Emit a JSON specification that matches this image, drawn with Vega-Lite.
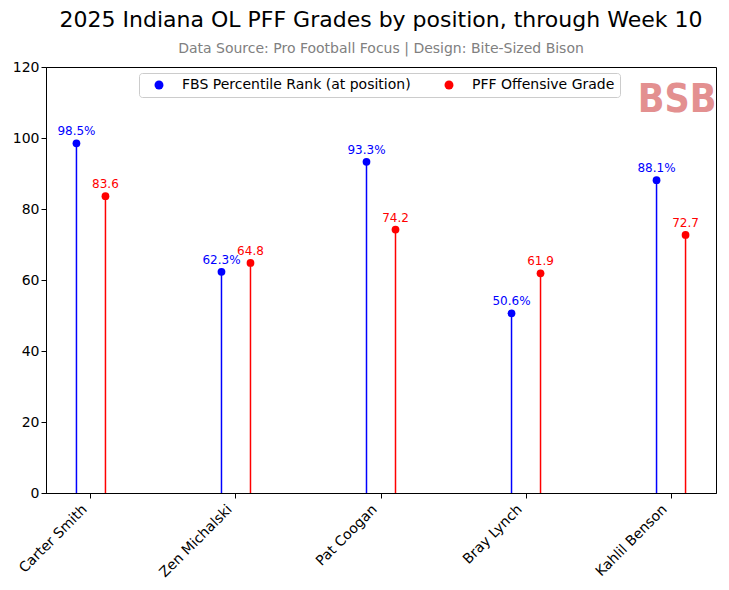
{
  "$schema": "https://vega.github.io/schema/vega-lite/v6.json",
  "width": 670,
  "height": 426,
  "autosize": {"type": "none"},
  "padding": {"left": 46, "top": 67, "right": 13, "bottom": 97},
  "background": "white",
  "config": {
    "view": {"stroke": "black", "strokeWidth": 1},
    "font": "DejaVu Sans"
  },
  "title": {
    "text": "2025 Indiana OL PFF Grades by position, through Week 10",
    "subtitle": "Data Source: Pro Football Focus | Design: Bite-Sized Bison",
    "font": "DejaVu Sans",
    "fontSize": 22,
    "fontWeight": "normal",
    "color": "black",
    "subtitleFont": "DejaVu Sans",
    "subtitleFontSize": 14,
    "subtitleColor": "#808080",
    "anchor": "middle",
    "offset": 3,
    "subtitlePadding": 10
  },
  "layer": [
    {
      "data": {
        "values": [
          {"player": "Carter Smith", "metric": "FBS Percentile Rank (at position)", "value": 98.5, "label": "98.5%"},
          {"player": "Carter Smith", "metric": "PFF Offensive Grade", "value": 83.6, "label": "83.6"},
          {"player": "Zen Michalski", "metric": "FBS Percentile Rank (at position)", "value": 62.3, "label": "62.3%"},
          {"player": "Zen Michalski", "metric": "PFF Offensive Grade", "value": 64.8, "label": "64.8"},
          {"player": "Pat Coogan", "metric": "FBS Percentile Rank (at position)", "value": 93.3, "label": "93.3%"},
          {"player": "Pat Coogan", "metric": "PFF Offensive Grade", "value": 74.2, "label": "74.2"},
          {"player": "Bray Lynch", "metric": "FBS Percentile Rank (at position)", "value": 50.6, "label": "50.6%"},
          {"player": "Bray Lynch", "metric": "PFF Offensive Grade", "value": 61.9, "label": "61.9"},
          {"player": "Kahlil Benson", "metric": "FBS Percentile Rank (at position)", "value": 88.1, "label": "88.1%"},
          {"player": "Kahlil Benson", "metric": "PFF Offensive Grade", "value": 72.7, "label": "72.7"}
        ]
      },
      "encoding": {
        "x": {
          "field": "player",
          "type": "nominal",
          "sort": null,
          "scale": {"paddingInner": 0.6, "paddingOuter": 0.11},
          "axis": {
            "title": null,
            "labelAngle": -45,
            "labelAlign": "right",
            "labelBaseline": "middle",
            "labelFontSize": 14,
            "labelFont": "DejaVu Sans",
            "labelColor": "black",
            "tickSize": 5,
            "tickColor": "black",
            "domainColor": "black",
            "labelPadding": 9,
            "labelOffset": -6,
            "bandPosition": 0.5,
            "grid": false
          }
        },
        "xOffset": {
          "field": "metric",
          "type": "nominal",
          "sort": ["FBS Percentile Rank (at position)", "PFF Offensive Grade"],
          "scale": {"paddingInner": 0, "paddingOuter": 0}
        },
        "y": {
          "field": "value",
          "type": "quantitative",
          "scale": {"domain": [0, 120]},
          "axis": {
            "title": null,
            "values": [0, 20, 40, 60, 80, 100, 120],
            "labelFontSize": 14,
            "labelFont": "DejaVu Sans",
            "labelColor": "black",
            "tickSize": 5,
            "tickColor": "black",
            "domainColor": "black",
            "labelPadding": 2,
            "grid": false
          }
        },
        "color": {
          "field": "metric",
          "type": "nominal",
          "sort": ["FBS Percentile Rank (at position)", "PFF Offensive Grade"],
          "scale": {"domain": ["FBS Percentile Rank (at position)", "PFF Offensive Grade"], "range": ["#0000ff", "#ff0000"]},
          "legend": {
            "title": null,
            "orient": "none",
            "legendX": 93,
            "legendY": 6,
            "direction": "horizontal",
            "labelFontSize": 14,
            "labelFont": "DejaVu Sans",
            "labelColor": "black",
            "labelLimit": 400,
            "symbolType": "circle",
            "symbolSize": 80,
            "symbolStrokeWidth": 0,
            "symbolOpacity": 1,
            "strokeColor": "#cccccc",
            "fillColor": "white",
            "padding": 5,
            "symbolOffset": 8,
            "labelOffset": 16,
            "columnPadding": 23,
            "cornerRadius": 3
          }
        }
      },
      "layer": [
        {
          "mark": {"type": "rule", "strokeWidth": 1.5}
        },
        {
          "mark": {"type": "point", "filled": true, "size": 60, "opacity": 1}
        },
        {
          "mark": {"type": "text", "dy": -12, "fontSize": 12, "font": "DejaVu Sans"},
          "encoding": {
            "text": {"field": "label"}
          }
        }
      ]
    },
    {
      "data": {"values": [{"logo": "BSB"}]},
      "mark": {"type": "text", "font": "DejaVu Sans Condensed", "fontWeight": "bold", "fontSize": 39, "color": "#e39090", "baseline": "middle", "align": "center", "dx": 6, "dy": 3},
      "encoding": {
        "x": {"datum": "Kahlil Benson"},
        "y": {"datum": 111.5},
        "text": {"field": "logo"}
      }
    }
  ]
}
